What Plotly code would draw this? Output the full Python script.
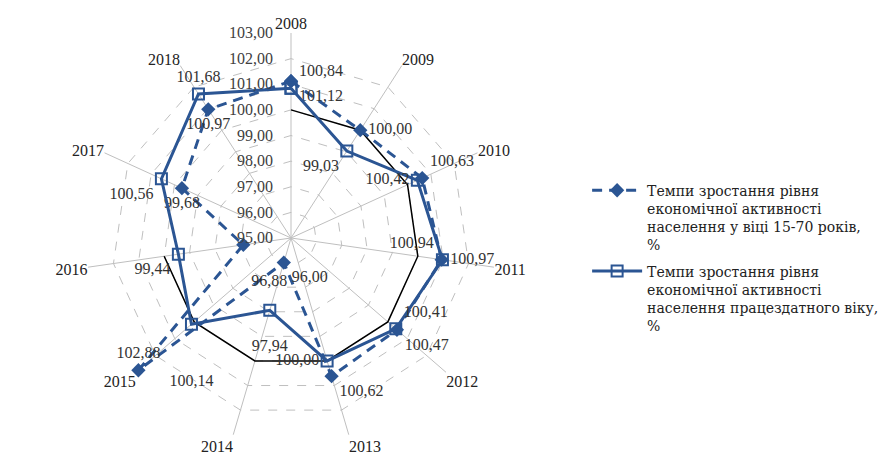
import plotly.graph_objects as go

years = ["2008", "2009", "2010", "2011", "2012", "2013", "2014", "2015", "2016", "2017", "2018"]
rate_15_70 = [101.12, 100.00, 100.63, 100.94, 100.47, 100.62, 96.00, 102.88, 96.88, 99.68, 100.97]
rate_working_age = [100.84, 99.03, 100.42, 100.97, 100.41, 100.00, 97.94, 100.14, 99.44, 100.56, 101.68]
base_line = [100.00, 100.00, 100.00, 100.00, 100.00, 100.00, 100.00, 100.00, 100.00, None, None]

name_15_70 = "Темпи зростання рівня<br>економічної активності<br>населення у віці 15-70 років,<br>%"
name_working = "Темпи зростання рівня<br>економічної активності<br>населення працездатного віку,<br>%"

pos_15_70 = ["bottom right", "middle right", "top right", "top left", "bottom right", "bottom right",
             "bottom right", "top center", "bottom right", "bottom center", "bottom center"]
pos_working = ["top right", "bottom left", "middle left", "middle right", "top right", "middle left",
               "bottom center", "bottom center", "bottom left", "bottom left", "top center"]
# extra blank lines pushing a label further from its point (label placement only)
gap_15_70 = [0, 0, 0, 0, 0, 0, 0, 0, 1, 0, 0]
gap_working = [0, 0, 0, 0, 0, 0, 1, 2, 0, 0, 0]

def fmt(v, gap=0):
    return "<br>" * gap + f"{v:.2f}".replace(".", ",")

BLUE = "#2B5593"
FONT = "Liberation Serif, Times New Roman, serif"
LEGEND_FONT = "DejaVu Serif"

fig = go.Figure()

fig.add_trace(go.Scatterpolar(
    r=base_line, theta=years,
    mode="lines", line=dict(color="black", width=1.5),
    showlegend=False, hoverinfo="skip", connectgaps=False,
))

fig.add_trace(go.Scatterpolar(
    r=rate_15_70 + [rate_15_70[0]], theta=years + [years[0]],
    mode="lines+markers+text",
    name=name_15_70, legendgroup="a",
    line=dict(color=BLUE, width=3, dash="10px,7px"),
    marker=dict(symbol="diamond", size=11, color=BLUE),
    text=[fmt(v, g) for v, g in zip(rate_15_70, gap_15_70)] + [""],
    textposition=pos_15_70 + ["middle center"],
    textfont=dict(family=FONT, size=16, color="#333333"),
))

fig.add_trace(go.Scatterpolar(
    r=rate_working_age + [rate_working_age[0]], theta=years + [years[0]],
    mode="lines+markers+text",
    name=name_working, legendgroup="b",
    line=dict(color=BLUE, width=3),
    marker=dict(symbol="square-open", size=11, color=BLUE, line=dict(width=2)),
    text=[fmt(v, g) for v, g in zip(rate_working_age, gap_working)] + [""],
    textposition=pos_working + ["middle center"],
    textfont=dict(family=FONT, size=16, color="#333333"),
))

fig.update_layout(
    width=895, height=462,
    margin=dict(l=0, r=0, t=0, b=0),
    paper_bgcolor="white",
    separators=", ",
    font=dict(family=FONT, size=15, color="#333333"),
    polar=dict(
        domain=dict(x=[0.0961, 0.5542], y=[0.0411, 0.9286]),
        bgcolor="white",
        gridshape="linear",
        radialaxis=dict(
            range=[95, 103], dtick=1, tickformat=".2f",
            angle=90, tickangle=90, side="counterclockwise",
            showline=False, ticks="outside", ticklen=12, tickcolor="rgba(0,0,0,0)",
            gridcolor="#BFBFBF", griddash="dash", gridwidth=1,
            tickfont=dict(family=FONT, size=16, color="#404040"),
        ),
        angularaxis=dict(
            direction="clockwise", rotation=90,
            showline=False, ticks="",
            gridcolor="#BFBFBF", gridwidth=1,
            tickfont=dict(family=FONT, size=16, color="#222222"),
        ),
    ),
    legend=dict(
        x=0.656, y=0.622, xanchor="left", yanchor="top",
        valign="top", traceorder="grouped", tracegroupgap=5, itemwidth=50,
        font=dict(family=LEGEND_FONT, size=14, color="#222222"),
    ),
)

fig.write_html("out.html")
